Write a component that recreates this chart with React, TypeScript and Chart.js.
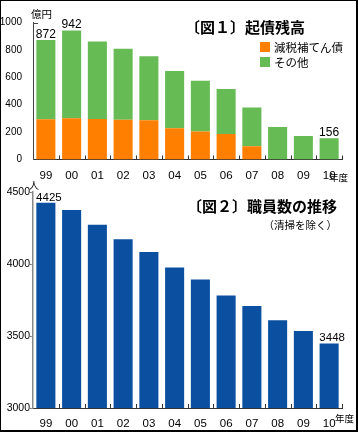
import React, { useEffect, useRef } from 'react';
import { Chart, registerables } from 'chart.js';

Chart.register(...registerables);

// ---- data ----
const years = ['99', '00', '01', '02', '03', '04', '05', '06', '07', '08', '09', '10'];
const reductionBonds = [294, 302, 296, 291, 286, 228, 204, 187, 97, 0, 0, 0];
const otherBonds = [578, 640, 566, 517, 467, 418, 371, 328, 282, 238, 172, 156];
const staffCount = [4425, 4375, 4272, 4172, 4083, 3975, 3892, 3781, 3709, 3609, 3535, 3448];
const debtTicks = [0, 200, 400, 600, 800, 1000];
const staffTicks = [3000, 3500, 4000, 4500];
const debtLabelIdx = [0, 1, 11];
const staffLabelIdx = [0, 11];

const NUM = "'Liberation Sans', Arial, sans-serif";
const JP = "'Noto Sans CJK JP', 'Noto Sans', sans-serif";
const ORANGE = '#FF7F00';
const GREEN = '#66BB55';
const BLUE = '#0A4FA0';

function drawInsideTicks(chart: any, color: string) {
  const ctx = chart.ctx;
  const xs = chart.scales.x;
  const { bottom } = chart.chartArea;
  ctx.save();
  ctx.strokeStyle = color;
  ctx.lineWidth = 1;
  for (let i = 0; i < years.length; i++) {
    const x = Math.round(xs.getPixelForValue(i + 0.5)) + 0.5;
    ctx.beginPath();
    ctx.moveTo(x, bottom);
    ctx.lineTo(x, bottom - 4);
    ctx.stroke();
  }
  ctx.restore();
}

const topDecor = {
  id: 'topDecor',
  afterDraw(chart: any) {
    const ctx = chart.ctx;
    const { left, top } = chart.chartArea;
    drawInsideTicks(chart, '#333');
    ctx.save();
    ctx.strokeStyle = '#444';
    ctx.lineWidth = 1;
    ctx.beginPath();
    ctx.moveTo(left, Math.round(top) + 0.5);
    ctx.lineTo(left + 5, Math.round(top) + 0.5);
    ctx.stroke();

    const meta = chart.getDatasetMeta(1);
    ctx.fillStyle = '#000';
    ctx.font = `12px ${NUM}`;
    ctx.textAlign = 'center';
    ctx.textBaseline = 'alphabetic';
    debtLabelIdx.forEach((i) => {
      const el = meta.data[i];
      const total = reductionBonds[i] + otherBonds[i];
      ctx.fillText(String(total), el.x, el.y - 2);
    });

    ctx.textAlign = 'left';
    ctx.textBaseline = 'middle';
    ctx.font = `bold 15px ${JP}`;
    ctx.fillText('〔図１〕起債残高', 185, 27);

    ctx.fillStyle = ORANGE;
    ctx.fillRect(260, 42, 10, 10);
    ctx.fillStyle = GREEN;
    ctx.fillRect(260, 57, 10, 10);
    ctx.fillStyle = '#000';
    ctx.font = `11.5px ${JP}`;
    ctx.fillText('減税補てん債', 274, 47.5);
    ctx.fillText('その他', 274, 62.5);

    ctx.font = `10.5px ${JP}`;
    ctx.fillText('億円', 31, 14);
    ctx.font = `9.5px ${JP}`;
    ctx.fillText('年度', 329, 177);
    ctx.restore();
  },
};

const bottomDecor = {
  id: 'bottomDecor',
  afterDraw(chart: any) {
    const ctx = chart.ctx;
    drawInsideTicks(chart, '#333');
    ctx.save();
    const meta = chart.getDatasetMeta(0);
    ctx.fillStyle = '#000';
    ctx.font = `11.5px ${NUM}`;
    ctx.textAlign = 'center';
    ctx.textBaseline = 'alphabetic';
    staffLabelIdx.forEach((i) => {
      const el = meta.data[i];
      ctx.fillText(String(staffCount[i]), el.x + 3, el.y - 2);
    });

    ctx.textAlign = 'left';
    ctx.textBaseline = 'middle';
    ctx.font = `bold 15px ${JP}`;
    ctx.fillText('〔図２〕職員数の推移', 187, 36);
    ctx.textAlign = 'right';
    ctx.font = `10.5px ${JP}`;
    ctx.fillText('（清掃を除く）', 337, 55);

    ctx.textAlign = 'left';
    ctx.font = `10px ${JP}`;
    ctx.fillText('人', 29, 15);
    ctx.font = `9.5px ${JP}`;
    ctx.fillText('年度', 335, 248);
    ctx.restore();
  },
};

function TopChart() {
  const ref = useRef<HTMLCanvasElement>(null);
  useEffect(() => {
    const chart = new Chart(ref.current!, {
      type: 'bar',
      data: {
        labels: years,
        datasets: [
          { label: '減税補てん債', data: reductionBonds, backgroundColor: ORANGE, borderWidth: 0 },
          { label: 'その他', data: otherBonds, backgroundColor: GREEN, borderWidth: 0 },
        ],
      },
      options: {
        responsive: false,
        animation: false,
        devicePixelRatio: 1,
        layout: { padding: { top: 22.5, right: 16, left: 0, bottom: 0 } },
        categoryPercentage: 0.74,
        barPercentage: 1,
        plugins: { legend: { display: false }, tooltip: { enabled: false }, title: { display: false } },
        scales: {
          x: {
            stacked: true,
            offset: true,
            grid: { display: false },
            border: { display: true, color: '#333', width: 1 },
            ticks: { color: '#000', font: { family: NUM, size: 11.5 }, padding: 1, maxRotation: 0, autoSkip: false },
            afterFit: (s: any) => { s.height = 25.5; },
          },
          y: {
            stacked: true,
            min: 0,
            max: 1000,
            afterBuildTicks: (s: any) => { s.ticks = debtTicks.map((v) => ({ value: v })); },
            grid: { display: false },
            border: { display: true, color: '#444', width: 1 },
            ticks: { color: '#000', font: { family: NUM, size: 10 }, padding: 3, callback: (v: any) => String(v) },
            afterFit: (s: any) => { s.width = 33; },
          },
        },
      },
      plugins: [topDecor],
    } as any);
    return () => chart.destroy();
  }, []);
  return (
    <canvas
      ref={ref}
      width={358}
      height={185}
      style={{ position: 'absolute', left: 0, top: 0, width: 358, height: 185 }}
    />
  );
}

function BottomChart() {
  const ref = useRef<HTMLCanvasElement>(null);
  useEffect(() => {
    const chart = new Chart(ref.current!, {
      type: 'bar',
      data: {
        labels: years,
        datasets: [{ label: '職員数', data: staffCount, backgroundColor: BLUE, borderWidth: 0 }],
      },
      options: {
        responsive: false,
        animation: false,
        devicePixelRatio: 1,
        layout: { padding: { top: 22, right: 16, left: 0, bottom: 0 } },
        categoryPercentage: 0.74,
        barPercentage: 1,
        plugins: { legend: { display: false }, tooltip: { enabled: false }, title: { display: false } },
        scales: {
          x: {
            offset: true,
            grid: { display: false },
            border: { display: true, color: '#333', width: 1 },
            ticks: { color: '#000', font: { family: NUM, size: 11.5 }, padding: 1, maxRotation: 0, autoSkip: false },
            afterFit: (s: any) => { s.height = 24; },
          },
          y: {
            min: 3000,
            max: 4500,
            afterBuildTicks: (s: any) => { s.ticks = staffTicks.map((v) => ({ value: v })); },
            grid: { display: true, drawOnChartArea: false, drawTicks: true, tickLength: 3, color: '#888' },
            border: { display: true, color: '#888', width: 1.5 },
            ticks: { color: '#000', font: { family: NUM, size: 10.5 }, padding: 0, callback: (v: any) => String(v) },
            afterFit: (s: any) => { s.width = 33; },
          },
        },
      },
      plugins: [bottomDecor],
    } as any);
    return () => chart.destroy();
  }, []);
  return (
    <canvas
      ref={ref}
      width={358}
      height={262}
      style={{ position: 'absolute', left: 0, top: 170, width: 358, height: 262 }}
    />
  );
}

export default function App() {
  return (
    <div style={{ position: 'absolute', left: 0, top: 0, width: 358, height: 432, background: '#fff', overflow: 'hidden' }}>
      <TopChart />
      <BottomChart />
      <div
        style={{
          position: 'absolute',
          left: 0,
          top: 0,
          width: 358,
          height: 432,
          boxSizing: 'border-box',
          borderTop: '1px solid #000',
          borderLeft: '1px solid #000',
          borderRight: '2px solid #000',
          borderBottom: '2px solid #000',
          pointerEvents: 'none',
        }}
      />
    </div>
  );
}
